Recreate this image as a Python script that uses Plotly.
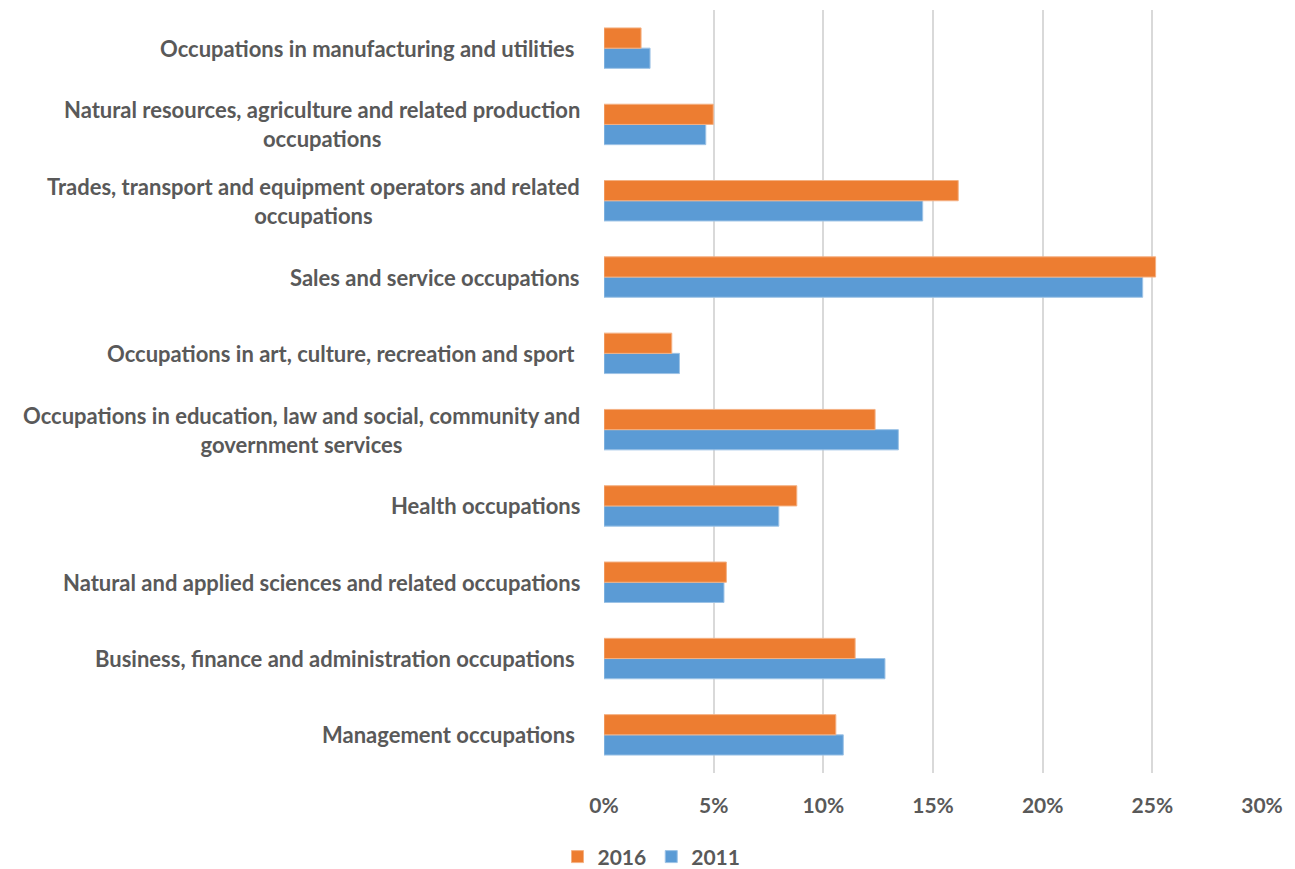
import plotly.graph_objects as go

categories = [
    "Management occupations ",
    "Business, finance and administration occupations ",
    "Natural and applied sciences and related occupations",
    "Health occupations",
    "Occupations in education, law and social, community and<br>government services",
    "Occupations in art, culture, recreation and sport ",
    "Sales and service occupations",
    "Trades, transport and equipment operators and related<br>occupations",
    "Natural resources, agriculture and related production<br>occupations",
    "Occupations in manufacturing and utilities ",
]
values_2016 = [10.57, 11.45, 5.58, 8.79, 12.36, 3.09, 25.15, 16.15, 4.98, 1.69]
values_2011 = [10.91, 12.81, 5.47, 7.97, 13.42, 3.44, 24.56, 14.53, 4.64, 2.10]
x_ticks = [0, 5, 10, 15, 20, 25, 30]
x_tick_labels = ["0%", "5%", "10%", "15%", "20%", "25%", "30%"]

TEXT = "#595959"
FONT = "Lato"

fig = go.Figure()
fig.add_trace(go.Bar(
    y=categories, x=values_2011, orientation="h", name="2011",
    marker=dict(color="#5B9BD5", line=dict(color="#9DC3E6", width=1)),
    legendrank=2,
))
fig.add_trace(go.Bar(
    y=categories, x=values_2016, orientation="h", name="2016",
    marker=dict(color="#ED7D31", line=dict(color="#F4B183", width=1)),
    legendrank=1,
))

annotations = []
for c in categories:
    annotations.append(dict(
        x=0, xref="paper", y=c, yref="y", xanchor="right", yanchor="middle",
        xshift=-22, text=c, showarrow=False, align="center",
        font=dict(family=FONT, size=22, color=TEXT, weight="bold"),
    ))

fig.update_layout(
    width=1287, height=861,
    margin=dict(l=596, r=33, t=2, b=96),
    plot_bgcolor="white", paper_bgcolor="white",
    barmode="group", bargap=0.47, bargroupgap=0,
    font=dict(family=FONT, color=TEXT),
    annotations=annotations,
    legend=dict(
        orientation="h", xref="container", x=0.5, xanchor="center",
        yref="container", y=0.014, yanchor="middle",
        font=dict(family=FONT, size=21, color=TEXT, weight="bold"),
        itemwidth=30, traceorder="normal",
    ),
    xaxis=dict(
        range=[0, 30], tickvals=x_ticks, ticktext=x_tick_labels,
        showgrid=True, gridcolor="#D9D9D9", gridwidth=1.5,
        zeroline=False, showline=False,
        tickfont=dict(family=FONT, size=21, color=TEXT, weight="bold"),
        ticklabelstandoff=18,
    ),
    yaxis=dict(
        showticklabels=False, showgrid=False, zeroline=False, showline=False,
        categoryorder="array", categoryarray=categories,
    ),
)

fig.write_html("out.html")
